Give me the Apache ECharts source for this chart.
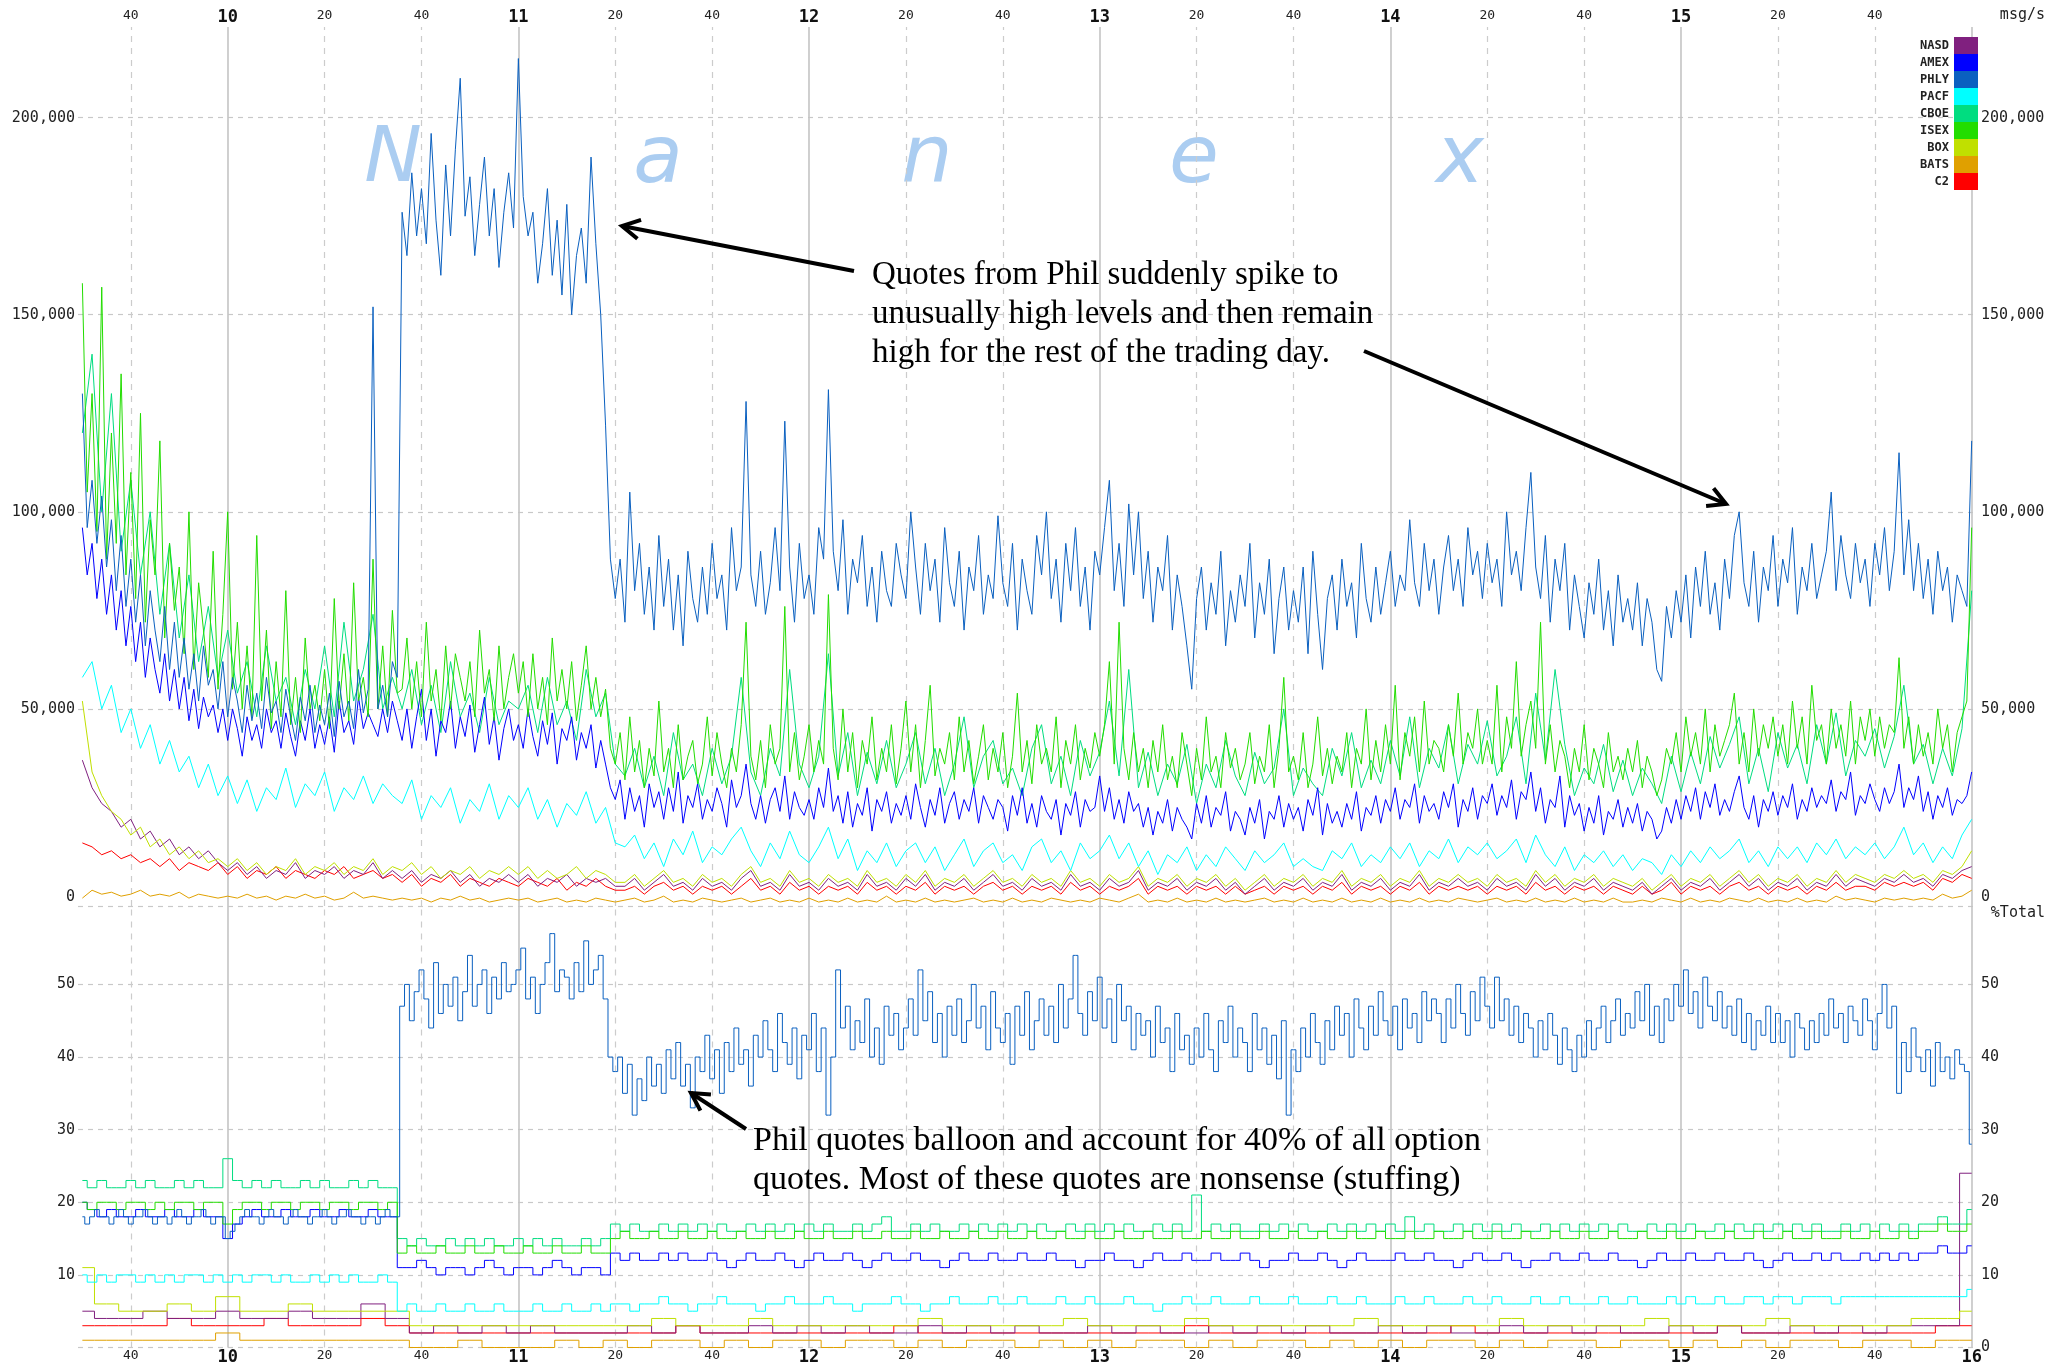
<!DOCTYPE html>
<html>
<head>
<meta charset="utf-8">
<title>Option quote rates by exchange</title>
<script src="https://cdn.jsdelivr.net/npm/echarts@6.0.0/dist/echarts.min.js"></script>
<style>
  html, body { margin: 0; padding: 0; background: #fff; }
  #chart { width: 2053px; height: 1369px; }
</style>
</head>
<body>
<div id="chart"></div>
<script>
var exchanges = ['NASD', 'AMEX', 'PHLY', 'PACF', 'CBOE', 'ISEX', 'BOX', 'BATS', 'C2'];
var exchangeColors = ['#80207f', '#0000ff', '#0a60c0', '#00ffff', '#00dd80', '#22dd00', '#c0e000', '#e0a000', '#ff0000'];
// back to front
var drawOrder = ['BATS', 'C2', 'NASD', 'BOX', 'PACF', 'CBOE', 'AMEX', 'ISEX', 'PHLY'];

// minutes after midnight: 570 = 9:30, 960 = 16:00
var timeTicks = [580, 600, 620, 640, 660, 680, 700, 720, 740, 760, 780, 800, 820, 840,
  860, 880, 900, 920, 940, 960];

// msg/s in thousands, one value per minute from 9:30 (rows of 10 minutes)
var phlyRate = [
  130, 96, 108, 92, 104, 86, 98, 80, 94, 76,
  88, 72, 84, 66, 80, 70, 62, 76, 60, 72,
  58, 68, 55, 64, 52, 66, 56, 60, 50, 62,
  48, 58, 52, 44, 56, 47, 54, 45, 58, 49,
  52, 44, 55, 48, 42, 53, 47, 56, 44, 51,
  46, 54, 43, 57, 48, 52, 45, 60, 49, 55,
  152, 50, 56, 48, 62, 58, 176, 165, 186, 170,
  182, 168, 196, 174, 160, 188, 170, 192, 210, 175,
  185, 165, 178, 190, 170, 182, 162, 176, 186, 172,
  215, 180, 170, 176, 158, 168, 182, 160, 174, 155,
  178, 150, 165, 172, 158, 190, 168, 150, 122, 88,
  78, 88, 72, 105, 80, 92, 74, 86, 70, 94,
  76, 88, 70, 84, 66, 90, 78, 72, 86, 74,
  92, 78, 84, 70, 96, 80, 86, 128, 84, 76,
  90, 74, 82, 96, 80, 123, 86, 72, 92, 78,
  84, 74, 96, 88, 131, 90, 80, 98, 74, 88,
  82, 94, 76, 86, 72, 90, 80, 76, 92, 84,
  78, 100, 86, 74, 92, 80, 88, 72, 96, 82,
  76, 90, 70, 86, 80, 94, 74, 84, 78, 99,
  82, 76, 92, 70, 88, 80, 74, 94, 84, 100,
  78, 88, 72, 92, 80, 96, 76, 86, 70, 90,
  84, 96, 108, 80, 92, 76, 102, 84, 100, 78,
  90, 72, 86, 80, 94, 70, 84, 76, 66, 55,
  78, 86, 70, 82, 74, 90, 66, 80, 72, 84,
  76, 92, 68, 82, 74, 88, 64, 78, 86, 70,
  80, 72, 86, 64, 90, 74, 60, 78, 84, 70,
  88, 76, 82, 68, 92, 78, 72, 86, 74, 82,
  90, 76, 84, 80, 98, 82, 76, 92, 80, 88,
  74, 86, 94, 80, 88, 76, 96, 84, 90, 78,
  92, 82, 88, 76, 100, 84, 90, 80, 96, 110,
  86, 78, 94, 72, 88, 80, 92, 70, 84, 76,
  68, 82, 74, 88, 70, 80, 66, 84, 72, 78,
  70, 82, 66, 78, 72, 60, 57, 76, 68, 80,
  72, 84, 68, 86, 76, 90, 74, 82, 70, 88,
  78, 94, 100, 82, 76, 90, 72, 86, 80, 94,
  76, 88, 82, 96, 74, 86, 80, 92, 78, 84,
  90, 105, 80, 94, 84, 78, 92, 82, 88, 76,
  92, 84, 96, 80, 90, 115, 84, 98, 80, 92,
  78, 88, 74, 90, 80, 86, 72, 84, 80, 76,
  118];

var amexRate = [
  96, 84, 92, 78, 88, 74, 84, 70, 80, 66,
  76, 62, 72, 58, 68, 60, 54, 64, 52, 60,
  50, 58, 47, 55, 45, 53, 48, 51, 44, 50,
  42, 50, 45, 38, 48, 42, 46, 40, 50, 44,
  47, 40, 49, 43, 38, 47, 42, 50, 40, 46,
  41, 48, 39, 52, 44, 47, 41, 53, 45, 49,
  46, 43, 50, 44, 52, 47, 42, 50, 40, 48,
  55, 42, 50, 38, 47, 44, 52, 40, 48, 43,
  51, 39, 46, 53, 41, 48, 37, 45, 50, 42,
  46, 40, 50, 43, 38, 47, 41, 49, 36, 45,
  42, 48, 37, 44, 40, 46, 35, 42, 36, 30,
  27, 32, 22, 30, 24, 28, 20, 31, 25, 29,
  22, 30, 24, 34, 21, 28, 25, 31, 22, 27,
  24, 30, 26, 20, 32, 25, 28, 36, 26, 22,
  28, 21, 27, 30, 24, 33, 22, 29, 25, 23,
  27, 22, 30, 25, 35, 24, 28, 21, 29, 20,
  26, 23, 30, 19, 27, 24, 29, 21, 26, 23,
  28, 22, 31, 25, 20, 27, 23, 30, 21, 26,
  29, 22, 27, 24, 30, 21, 28, 25, 22, 27,
  25, 19, 28, 23, 30, 21, 26, 20, 28, 24,
  22, 27, 18, 26, 23, 29, 20, 27, 24, 25,
  33, 24, 30, 22, 27, 21, 29, 24, 26, 20,
  25, 18, 24, 21, 27, 19, 25, 22, 20, 17,
  26, 21, 28, 20, 25, 23, 29, 19, 24, 22,
  18, 25, 21, 27, 17, 24, 22, 28, 20, 26,
  22, 25, 19, 27, 23, 30, 18, 26, 21, 24,
  20, 26, 22, 29, 19, 25, 23, 28, 21, 27,
  24, 30, 22, 27, 25, 31, 21, 28, 24, 26,
  22, 29, 25, 31, 20, 27, 24, 30, 22, 28,
  26, 31, 23, 28, 25, 32, 22, 29, 27, 34,
  24, 30, 21, 27, 25, 33, 20, 28, 23, 26,
  19, 25, 21, 28, 18, 24, 22, 27, 20, 25,
  21, 26, 19, 24, 22, 17, 19, 25, 21, 27,
  22, 28, 24, 30, 22, 29, 25, 31, 23, 27,
  24, 29, 33, 25, 22, 28, 20, 27, 24, 29,
  23, 28, 25, 31, 22, 27, 24, 30, 25, 28,
  26, 32, 24, 29, 27, 34, 23, 28, 26, 31,
  27, 24, 30, 26, 29, 36, 25, 30, 27, 33,
  24, 29, 22, 28, 25, 30, 23, 27, 26, 28,
  34];

var isexRate = [
  158, 105, 130, 95, 157, 88, 120, 92, 135, 84,
  110, 78, 125, 72, 98, 84, 118, 68, 92, 75,
  86, 64, 100, 60, 82, 70, 58, 90, 55, 74,
  100, 55, 72, 50, 66, 48, 94, 52, 70, 45,
  62, 48, 80, 46, 58, 44, 68, 50, 56, 47,
  60, 45, 78, 50, 64, 47, 82, 52, 58, 48,
  88, 50, 66, 48, 75, 54, 55, 68, 50, 62,
  48, 72, 52, 60, 47, 66, 50, 64, 58, 52,
  62, 48, 70, 54, 60, 47, 66, 50, 58, 64,
  54, 62, 48, 64, 50, 58, 46, 68, 52, 60,
  50, 62, 47, 56, 66, 50, 58, 48, 55, 40,
  36, 44, 32, 48, 34, 42, 30, 40, 33, 52,
  34, 40, 30, 46, 32, 38, 42, 31, 36, 48,
  33, 44, 36, 30, 40, 34, 46, 72, 38, 32,
  42, 30, 46, 36, 40, 76, 34, 44, 32, 38,
  46, 34, 42, 36, 79, 40, 32, 50, 34, 44,
  30, 42, 36, 48, 32, 40, 34, 46, 31, 40,
  52, 34, 46, 30, 42, 56, 33, 40, 36, 44,
  32, 48, 34, 42, 31, 38, 46, 32, 40, 34,
  44, 30, 38, 54, 34, 42, 31, 46, 36, 40,
  34, 48, 30, 42, 36, 46, 32, 40, 35, 44,
  38, 46, 62, 36, 72, 40, 32, 44, 34, 40,
  30, 42, 34, 46, 32, 38, 30, 44, 36, 28,
  40, 32, 48, 34, 38, 30, 44, 35, 40, 32,
  36, 44, 31, 38, 34, 46, 30, 40, 58, 34,
  38, 32, 44, 30, 36, 48, 33, 40, 31, 38,
  34, 44, 30, 40, 36, 50, 32, 42, 34, 46,
  36, 56, 32, 44, 38, 48, 34, 52, 36, 42,
  40, 34, 46, 38, 54, 36, 44, 40, 50, 36,
  42, 36, 56, 34, 48, 40, 62, 38, 46, 52,
  40, 72, 36, 46, 34, 42, 38, 30, 40, 34,
  46, 32, 40, 36, 30, 44, 34, 38, 32, 40,
  34, 42, 30, 38, 34, 28, 32, 40, 36, 44,
  34, 48, 38, 44, 36, 50, 34, 46, 38, 42,
  46, 54, 36, 44, 34, 50, 38, 46, 40, 48,
  38, 46, 36, 52, 40, 48, 36, 56, 42, 46,
  36, 50, 40, 46, 38, 52, 36, 48, 42, 50,
  38, 48, 40, 46, 44, 63, 40, 48, 36, 46,
  38, 44, 36, 50, 40, 46, 34, 44, 48, 52,
  96];

// msg/s in thousands, one value every 2 minutes from 9:30
var cboeRate = [120, 140, 100, 130, 90, 108, 84, 100, 74, 92, 68, 84, 62, 76, 58,
  70, 54, 62, 48, 66, 52, 58, 46, 60, 50, 66, 48, 72, 52, 60,
  74, 50, 58,
  50, 60, 46, 56, 44, 62, 48, 54, 44, 58, 46, 52,
  50, 56, 44, 58, 46, 52, 42, 60, 48, 54, 36,
  33, 40, 30, 38, 28, 44, 32, 36, 28, 40,
  31, 38, 58, 34, 28, 40, 33, 60, 36, 30,
  38, 64, 33, 44, 28, 39, 31, 42, 30, 36,
  44, 31, 40, 28, 36, 48, 30, 38, 42, 31,
  35, 28, 40, 46, 31, 38, 28, 42, 33, 39,
  52, 33, 60, 30, 39, 28, 36, 31, 41, 26,
  36, 30, 42, 33, 28, 39, 31, 35, 50, 28,
  35, 31, 28, 40, 33, 44, 30, 37, 31, 42,
  33, 48, 30, 40, 35, 46, 31, 41, 36, 47,
  33, 38, 48, 31, 54, 37, 60, 41, 28, 35,
  31, 41, 29, 37, 28, 35, 31, 26, 38, 29,
  39, 31, 43, 35, 41, 48, 31, 40, 29, 44,
  35, 41, 31, 46, 36, 49, 33, 42, 38, 45,
  35, 43, 56, 36, 41, 31, 40, 33, 45, 80];

var pacfRate = [58, 62, 50, 56, 44, 50, 40, 46, 36, 42, 34, 38, 30, 36, 28,
  33, 26, 32, 24, 30, 27, 35, 25, 31, 28, 34, 24, 30, 27, 33,
  26, 31, 28,
  26, 32, 22, 28, 25, 30, 21, 27, 24, 31, 22, 28,
  25, 30, 22, 27, 20, 26, 23, 29, 21, 25, 16,
  15, 18, 12, 16, 10, 17, 13, 19, 11, 15,
  13, 17, 20, 14, 10, 16, 12, 19, 13, 11,
  15, 20, 12, 17, 9, 14, 11, 16, 10, 14,
  16, 11, 15, 9, 13, 17, 10, 14, 16, 11,
  13, 9, 15, 17, 11, 14, 9, 16, 12, 14,
  18, 12, 16, 10, 14, 8, 13, 11, 15, 9,
  13, 10, 15, 12, 9, 14, 11, 13, 16, 10,
  12, 10, 9, 14, 12, 16, 10, 13, 11, 15,
  12, 16, 10, 14, 12, 17, 11, 15, 13, 16,
  12, 14, 17, 11, 18, 13, 10, 15, 9, 13,
  11, 14, 10, 13, 9, 12, 11, 8, 13, 10,
  14, 11, 15, 12, 14, 17, 11, 14, 10, 15,
  12, 15, 11, 16, 13, 17, 12, 15, 13, 16,
  12, 15, 20, 13, 16, 11, 15, 12, 18, 22];

var boxRate = [52, 34, 28, 24, 22, 18, 20, 15, 17, 13, 15, 12, 14, 11, 12,
  10, 12, 9, 11, 8, 10, 9, 12, 8, 10, 9, 11, 8, 10, 9,
  12, 8, 10,
  9, 11, 8, 10, 7, 9, 8, 10, 7, 9, 8, 10,
  8, 10, 7, 9, 7, 8, 10, 7, 9, 8, 6,
  6, 8, 5, 7, 9, 6, 7, 5, 8, 6,
  7, 5, 8, 10, 6, 7, 5, 9, 6, 7,
  5, 8, 6, 7, 5, 9, 6, 7, 5, 8,
  6, 9, 5, 7, 6, 8, 5, 7, 9, 6,
  7, 5, 8, 6, 7, 5, 9, 6, 7, 5,
  8, 6, 7, 10, 5, 7, 6, 8, 5, 7,
  6, 8, 5, 7, 4, 6, 8, 5, 7, 6,
  8, 5, 7, 6, 9, 5, 7, 6, 8, 5,
  7, 6, 9, 5, 7, 6, 8, 6, 7, 5,
  8, 6, 7, 5, 9, 6, 8, 5, 7, 6,
  8, 5, 7, 6, 5, 7, 4, 6, 8, 5,
  7, 6, 8, 5, 7, 9, 6, 8, 5, 7,
  6, 8, 5, 7, 6, 9, 6, 8, 7, 6,
  8, 7, 9, 7, 8, 6, 9, 8, 10, 14];

var nasdRate = [37, 30, 26, 24, 20, 22, 17, 19, 15, 17, 13, 15, 12, 14, 11,
  9, 11, 8, 10, 7, 9, 8, 11, 7, 9, 8, 10, 7, 9, 8,
  11, 7, 9,
  7, 9, 6, 8, 7, 9, 6, 8, 5, 7, 6, 8,
  6, 8, 5, 7, 6, 8, 5, 7, 6, 7, 5,
  5, 7, 4, 6, 8, 5, 6, 4, 7, 5,
  6, 4, 7, 9, 5, 6, 4, 8, 5, 6,
  4, 7, 5, 6, 4, 8, 5, 6, 4, 7,
  5, 8, 4, 6, 5, 7, 4, 6, 8, 5,
  6, 4, 7, 5, 6, 4, 8, 5, 6, 4,
  7, 5, 6, 9, 4, 6, 5, 7, 4, 6,
  5, 7, 4, 6, 3, 5, 7, 4, 6, 5,
  7, 4, 6, 5, 8, 4, 6, 5, 7, 4,
  6, 5, 8, 4, 6, 5, 7, 5, 6, 4,
  7, 5, 6, 4, 8, 5, 7, 4, 6, 5,
  7, 4, 6, 5, 4, 6, 3, 5, 7, 4,
  6, 5, 7, 4, 6, 8, 5, 7, 4, 6,
  5, 7, 4, 6, 5, 8, 5, 7, 6, 5,
  7, 6, 8, 6, 7, 5, 8, 7, 9, 10];

var c2Rate = [16, 15, 13, 14, 12, 13, 11, 12, 10, 12, 9, 11, 10, 9, 11,
  8, 10, 7, 9, 8, 10, 7, 9, 8, 7, 9, 8, 10, 7, 8,
  9, 7, 8,
  6, 8, 5, 7, 6, 8, 5, 7, 6, 5, 7, 6,
  5, 7, 6, 5, 7, 4, 6, 5, 7, 5, 4,
  4, 5, 3, 5, 6, 4, 5, 3, 5, 4,
  5, 3, 5, 7, 4, 5, 3, 6, 4, 5,
  3, 5, 4, 5, 3, 6, 4, 5, 3, 5,
  4, 6, 3, 5, 4, 5, 3, 5, 6, 4,
  5, 3, 5, 4, 5, 3, 6, 4, 5, 3,
  5, 4, 5, 7, 3, 5, 4, 5, 3, 5,
  4, 5, 3, 5, 3, 4, 5, 3, 5, 4,
  5, 3, 5, 4, 6, 3, 5, 4, 5, 3,
  5, 4, 6, 3, 5, 4, 5, 4, 5, 3,
  5, 4, 5, 3, 6, 4, 5, 3, 5, 4,
  5, 3, 5, 4, 3, 5, 3, 4, 6, 3,
  5, 4, 5, 3, 5, 6, 4, 5, 3, 5,
  4, 5, 3, 5, 4, 6, 4, 5, 5, 4,
  6, 5, 6, 5, 6, 4, 7, 6, 8, 7];

var batsRate = [2, 4, 3, 3.5, 2.5, 3, 4, 2.5, 3, 2.5, 3.5, 2, 3, 2.5, 2,
  2.5, 2, 3, 2, 2.5, 1.5, 2.5, 2, 3, 2, 2.5, 1.5, 2, 3.5, 2,
  2.5, 2, 1.5,
  2, 1.5, 2, 1, 2, 1.5, 2.5, 1.5, 2, 1, 1.5, 2,
  1.5, 2, 1, 1.5, 2, 1, 1.5, 1, 2, 1.5, 1,
  1.5, 2, 1, 1.5, 2.5, 1, 1.5, 1, 2, 1.5,
  1, 1.5, 2, 1, 1.5, 2, 1, 1.5, 1, 2,
  1, 1.5, 1, 2, 1, 1.5, 1, 2.5, 1, 1.5,
  1, 2, 1, 1.5, 1, 1.5, 2, 1, 1.5, 1,
  2, 1, 1.5, 1, 2, 1.5, 1, 1.5, 1, 2,
  1.5, 1, 2, 3, 1, 1.5, 1, 2, 1, 1.5,
  1, 2, 1, 1.5, 1, 1.5, 2, 1, 1.5, 1,
  2, 1, 1.5, 1, 2, 1, 1.5, 1, 2, 1,
  1.5, 1, 2, 1, 1.5, 1, 2, 1.5, 1, 1.5,
  2, 1, 1.5, 1, 2, 1, 1.5, 1, 2, 1,
  1.5, 1, 2, 1, 1, 1.5, 1, 2, 1.5, 1,
  2, 1, 1.5, 1, 2, 1.5, 1, 2, 1, 1.5,
  1, 2, 1, 1.5, 1, 2.5, 1.5, 2, 1.5, 1,
  2, 1.5, 2, 1.5, 2, 1.5, 3, 2, 2.5, 4];

// percent of all option quotes, one value per minute
var phlyPct = [
  18, 17, 18, 19, 18, 18, 17, 18, 19, 18,
  17, 18, 18, 19, 18, 17, 18, 18, 17, 18,
  19, 18, 17, 18, 18, 19, 18, 17, 18, 18,
  15, 16, 17, 18, 19, 18, 18, 17, 18, 19,
  18, 18, 17, 18, 19, 18, 18, 17, 18, 18,
  19, 18, 17, 18, 18, 19, 18, 18, 17, 18,
  18, 17, 18, 19, 18, 18, 47, 50, 45, 49,
  52, 48, 44, 53, 46, 50, 47, 51, 45, 49,
  54, 47, 50, 52, 46, 51, 48, 53, 49, 50,
  52, 55, 48, 51, 46, 50, 53, 57, 49, 52,
  51, 48, 53, 49, 56, 50, 52, 54, 48, 40,
  38, 40, 35, 39, 32, 37, 34, 40, 36, 39,
  35, 41, 37, 42, 36, 39, 33, 40, 38, 43,
  37, 41, 35, 42, 38, 44, 39, 41, 36, 43,
  40, 45, 41, 38, 46, 42, 39, 44, 37, 43,
  41, 46, 38, 44, 32, 40, 52, 44, 47, 41,
  45, 42, 48, 40, 44, 39, 47, 43, 46, 41,
  44, 48, 43, 52, 45, 49, 42, 46, 40, 47,
  43, 48, 42, 45, 50, 44, 47, 41, 49, 44,
  42, 46, 39, 47, 43, 49, 41, 45, 48, 43,
  47, 42, 50, 44, 48, 54, 46, 43, 49, 45,
  51, 44, 48, 42, 50, 45, 47, 41, 46, 43,
  45, 40, 47, 42, 44, 38, 46, 41, 43, 39,
  44, 40, 46, 41, 38, 45, 42, 47, 40, 44,
  42, 38, 46, 41, 44, 39, 43, 37, 45, 32,
  41, 38, 44, 40, 46, 42, 39, 45, 41, 47,
  43, 46, 40, 48, 44, 41, 47, 43, 49, 45,
  43, 47, 41, 48, 44, 46, 42, 49, 45, 48,
  46, 42, 48, 44, 50, 46, 43, 49, 45, 51,
  47, 44, 51, 45, 48, 43, 47, 42, 46, 44,
  40, 45, 41, 46, 43, 39, 44, 41, 38, 43,
  40, 45, 41, 44, 47, 42, 45, 48, 43, 46,
  44, 49, 45, 50, 43, 47, 42, 48, 45, 50,
  47, 52, 46, 49, 44, 51, 47, 45, 49, 44,
  47, 43, 48, 42, 46, 41, 45, 43, 47, 42,
  46, 42, 45, 40, 46, 44, 41, 45, 42, 46,
  43, 48, 44, 46, 42, 47, 45, 43, 48, 45,
  41, 46, 50, 44, 47, 35, 42, 38, 44, 40,
  38, 41, 36, 42, 38, 40, 37, 41, 39, 38,
  28];

// percent of all option quotes, every 2 minutes
var cboePct = [23, 22, 23, 22, 22, 23, 22, 23, 22, 22, 23, 22, 23, 22, 22,
  26, 23, 22, 23, 22, 23, 22, 22, 23, 22, 23, 22, 22, 23, 22, 23, 22, 22,
  15, 14, 15, 14, 14, 15, 14, 15, 14, 15, 14, 14, 15, 14, 15, 14, 15, 14, 14, 15, 14, 15,
  17, 16, 17, 16, 16, 17, 16, 17, 16, 17,
  16, 17, 16, 16, 17, 16, 17, 16, 17, 16,
  17, 16, 17, 16, 16, 17, 16, 17, 18, 16,
  16, 17, 16, 17, 16, 16, 17, 16, 17, 16,
  17, 16, 17, 16, 17, 16, 16, 17, 16, 17,
  16, 17, 16, 17, 16, 16, 17, 16, 17, 16,
  21, 16, 17, 16, 17, 16, 16, 17, 16, 17,
  16, 17, 16, 16, 17, 16, 17, 16, 17, 16,
  17, 16, 18, 16, 17, 16, 16, 17, 16, 17,
  16, 17, 16, 17, 16, 16, 17, 16, 17, 16,
  17, 16, 17, 16, 17, 16, 16, 17, 16, 17,
  16, 17, 16, 16, 17, 16, 17, 16, 17, 16,
  17, 16, 17, 16, 17, 16, 16, 17, 16, 17,
  16, 17, 16, 17, 16, 17, 17, 18, 17, 17,
  19];

var isexPct = [20, 19, 20, 20, 19, 20, 20, 19, 20, 19, 20, 20, 19, 20, 20,
  17, 19, 20, 20, 19, 20, 20, 19, 20, 20, 19, 20, 20, 19, 20, 20, 19, 20,
  13, 14, 13, 13, 14, 13, 13, 14, 13, 13, 14, 13, 13, 14, 13, 13, 14, 13, 13, 14, 13, 13,
  15, 16, 15, 15, 16, 15, 15, 16, 15, 15,
  16, 15, 15, 16, 15, 15, 16, 15, 15, 16,
  15, 15, 16, 15, 15, 16, 15, 15, 16, 15,
  15, 16, 15, 15, 16, 15, 15, 16, 15, 15,
  16, 15, 15, 16, 15, 15, 16, 15, 15, 16,
  15, 15, 16, 15, 15, 16, 15, 15, 16, 15,
  15, 16, 15, 15, 16, 15, 15, 16, 15, 15,
  16, 15, 15, 16, 15, 15, 16, 15, 15, 16,
  15, 15, 16, 15, 15, 16, 15, 15, 16, 15,
  15, 16, 15, 15, 16, 15, 15, 16, 15, 15,
  16, 15, 15, 16, 15, 15, 16, 15, 15, 16,
  15, 15, 16, 15, 15, 16, 15, 15, 16, 15,
  15, 16, 15, 15, 16, 15, 15, 16, 15, 15,
  16, 15, 15, 16, 15, 16, 16, 17, 16, 16,
  17];

var amexPct = [20, 19, 18, 19, 18, 18, 19, 18, 18, 19, 18, 18, 19, 18, 18,
  15, 17, 18, 19, 18, 18, 19, 18, 18, 19, 18, 18, 19, 18, 18, 19, 18, 18,
  11, 11, 12, 11, 10, 11, 11, 10, 11, 12, 11, 10, 11, 11, 10, 11, 12, 11, 10, 11, 11, 10,
  13, 12, 13, 12, 12, 13, 12, 13, 12, 12,
  13, 12, 11, 12, 13, 12, 12, 13, 12, 11,
  12, 13, 12, 12, 13, 12, 11, 12, 13, 12,
  12, 13, 12, 12, 11, 12, 13, 12, 12, 13,
  12, 12, 13, 12, 12, 13, 12, 12, 11, 12,
  12, 13, 12, 12, 11, 12, 13, 12, 12, 13,
  12, 12, 13, 12, 12, 13, 12, 11, 12, 12,
  13, 12, 12, 13, 12, 11, 12, 13, 12, 12,
  12, 13, 12, 12, 13, 12, 12, 11, 12, 13,
  12, 12, 13, 12, 11, 12, 12, 13, 12, 12,
  13, 12, 12, 13, 12, 12, 11, 12, 13, 12,
  12, 13, 12, 12, 13, 12, 12, 13, 12, 11,
  12, 13, 12, 12, 13, 12, 13, 12, 12, 13,
  12, 13, 12, 13, 12, 13, 13, 14, 13, 13,
  14];

var pacfPct = [10, 9, 10, 9, 10, 10, 9, 10, 9, 10, 9, 10, 10, 9, 10,
  9, 10, 9, 10, 10, 9, 10, 9, 9, 10, 9, 10, 9, 10, 9, 9, 10, 9,
  5, 6, 5, 5, 6, 5, 5, 6, 5, 5, 6, 5, 5, 5, 6, 5, 5, 6, 5, 5, 6, 5,
  6, 6, 5, 6, 6, 7, 6, 6, 5, 6,
  6, 7, 6, 6, 6, 5, 6, 6, 7, 6,
  6, 6, 7, 6, 6, 5, 6, 6, 6, 7,
  6, 6, 5, 6, 6, 7, 6, 6, 6, 7,
  6, 6, 7, 6, 6, 6, 7, 6, 6, 7,
  6, 6, 6, 7, 6, 6, 5, 6, 6, 7,
  6, 6, 7, 6, 6, 6, 7, 6, 6, 6,
  7, 6, 6, 6, 7, 6, 6, 7, 6, 6,
  6, 7, 6, 6, 7, 6, 6, 6, 7, 6,
  6, 7, 6, 6, 6, 7, 6, 6, 7, 6,
  6, 6, 7, 6, 6, 7, 6, 6, 6, 7,
  6, 7, 6, 6, 7, 6, 6, 7, 7, 6,
  7, 7, 6, 7, 7, 7, 6, 7, 7, 7,
  7, 7, 7, 7, 7, 7, 7, 7, 7, 7,
  8];

// percent of all option quotes, every 5 minutes
var boxPct = [11, 6, 5, 5, 6, 5, 7, 5, 5, 6, 5, 5, 5, 5,
  3, 3, 3, 3, 3, 3, 3, 3,
  3, 3, 4, 3, 3, 3, 4, 3, 3, 3,
  3, 3, 3, 4, 3, 3, 3, 3, 3, 4,
  3, 3, 3, 3, 4, 3, 3, 3, 3, 3,
  3, 4, 3, 3, 3, 3, 3, 4, 3, 3,
  3, 3, 3, 4, 3, 3, 3, 3, 4, 3,
  3, 3, 3, 3, 4, 4, 5];

var nasdPct = [5, 4, 4, 5, 4, 4, 5, 4, 4, 5, 4, 4, 6, 4,
  2, 3, 2, 3, 2, 3, 2, 2,
  2, 3, 2, 3, 2, 2, 3, 2, 3, 2,
  3, 2, 2, 3, 2, 3, 2, 3, 2, 2,
  3, 2, 3, 2, 2, 3, 2, 3, 2, 3,
  2, 2, 3, 2, 3, 2, 2, 3, 2, 3,
  2, 3, 2, 2, 3, 2, 3, 2, 2, 3,
  2, 3, 2, 3, 3, 3, 24];

var c2Pct = [3, 3, 3, 3, 4, 3, 3, 3, 4, 3, 3, 3, 4, 3,
  2, 2, 2, 2, 2, 2, 2, 2,
  2, 2, 2, 3, 2, 2, 2, 2, 2, 2,
  2, 2, 3, 2, 2, 2, 2, 2, 2, 2,
  2, 2, 2, 2, 3, 2, 2, 2, 2, 2,
  2, 2, 2, 2, 2, 3, 2, 2, 2, 2,
  2, 2, 2, 2, 2, 2, 3, 2, 2, 2,
  2, 2, 2, 2, 2, 3, 3];

var batsPct = [1, 1, 1, 1, 1, 1, 2, 1, 1, 1, 1, 1, 1, 1,
  0, 0, 1, 0, 0, 0, 1, 0,
  1, 0, 1, 1, 0, 1, 0, 1, 1, 0,
  1, 1, 0, 1, 0, 1, 1, 0, 1, 0,
  1, 0, 1, 1, 0, 1, 0, 1, 1, 0,
  1, 0, 1, 0, 1, 1, 0, 1, 0, 1,
  1, 0, 1, 1, 0, 1, 0, 1, 0, 1,
  1, 0, 1, 1, 0, 1, 1];

// each entry: [sampling step in minutes, values]
var rates = {
  PHLY: [1, phlyRate], AMEX: [1, amexRate], ISEX: [1, isexRate], CBOE: [2, cboeRate],
  PACF: [2, pacfRate], BOX: [2, boxRate], NASD: [2, nasdRate], C2: [2, c2Rate], BATS: [2, batsRate]
};
var shares = {
  PHLY: [1, phlyPct], AMEX: [2, amexPct], ISEX: [2, isexPct], CBOE: [2, cboePct],
  PACF: [2, pacfPct], BOX: [5, boxPct], NASD: [5, nasdPct], C2: [5, c2Pct], BATS: [5, batsPct]
};

var MONO = 'DejaVu Sans Mono';
var GRID_GREY = '#c8c8c8';

// pair every value with its sample time (minutes after midnight, from 9:30)
function pairs(step, vals, mult) {
  return vals.map(function (v, i) { return [570 + step * i, v * mult]; });
}

function colorOf(name) {
  return exchangeColors[exchanges.indexOf(name)];
}

function withCommas(v) {
  return String(v).replace(/\B(?=(\d{3})+(?!\d))/g, ',');
}

function timeLabel(v) {
  var m = Math.round(v) % 60;
  return m === 0 ? '{h|' + Math.round(v / 60) + '}' : '{m|' + m + '}';
}

// vertical time grid, drawn under the data
function timeGrid(xi, yi) {
  return {
    type: 'line',
    xAxisIndex: xi,
    yAxisIndex: yi,
    data: [],
    silent: true,
    z: 1,
    markLine: {
      z: 1,
      silent: true,
      symbol: 'none',
      animation: false,
      label: { show: false },
      data: timeTicks.map(function (t) {
        var hour = t % 60 === 0;
        return {
          xAxis: t,
          lineStyle: {
            color: hour ? '#c4c4c4' : '#cccccc',
            width: hour ? 1.6 : 1.2,
            type: hour ? 'solid' : [6, 6]
          }
        };
      })
    }
  };
}

function arrow(x1, y1, x2, y2) {
  var ang = Math.atan2(y1 - y2, x1 - x2);
  var head = 20;
  var spread = 0.5;
  return [{
    type: 'line',
    z: 100,
    shape: { x1: x1, y1: y1, x2: x2, y2: y2 },
    style: { stroke: '#000', lineWidth: 4 }
  }, {
    type: 'polyline',
    z: 100,
    shape: {
      points: [
        [x2 + head * Math.cos(ang + spread), y2 + head * Math.sin(ang + spread)],
        [x2, y2],
        [x2 + head * Math.cos(ang - spread), y2 + head * Math.sin(ang - spread)]
      ]
    },
    style: { stroke: '#000', lineWidth: 4, fill: null }
  }];
}

function watermark(ch, x, size) {
  return {
    type: 'text',
    x: x,
    y: 161,
    z: 0,
    silent: true,
    style: {
      text: ch,
      font: 'italic ' + size + 'px "DejaVu Sans"',
      fill: '#abcdf1',
      align: 'center',
      verticalAlign: 'middle'
    }
  };
}

var series = [timeGrid(0, 0), timeGrid(1, 2)];
drawOrder.forEach(function (name) {
  series.push({
    name: name,
    type: 'line',
    xAxisIndex: 0,
    yAxisIndex: 0,
    data: pairs(rates[name][0], rates[name][1], 1000),
    showSymbol: false,
    silent: true,
    lineStyle: { width: 1, color: colorOf(name) },
    itemStyle: { color: colorOf(name) }
  });
  series.push({
    name: name,
    type: 'line',
    xAxisIndex: 1,
    yAxisIndex: 2,
    step: 'middle',
    data: pairs(shares[name][0], shares[name][1], 1),
    showSymbol: false,
    silent: true,
    lineStyle: { width: 1, color: colorOf(name) },
    itemStyle: { color: colorOf(name) }
  });
});

var xBase = {
  type: 'value',
  min: 569.1,
  max: 961.3,
  axisLine: { show: false },
  axisTick: { show: false },
  splitLine: { show: false }
};

// lineColors: one entry per drawn split line, so a transparent one hides it
function yAxis(grid, pos, max, split, formatter, showMin, lineColors) {
  return {
    type: 'value',
    gridIndex: grid,
    position: pos,
    min: 0,
    max: max,
    interval: split,
    axisLine: { show: false },
    axisTick: { show: false },
    splitLine: {
      show: pos === 'left',
      showMaxLine: false,
      lineStyle: { color: lineColors, type: [5, 5], width: 1.2 }
    },
    axisLabel: {
      margin: 3,
      showMaxLabel: false,
      showMinLabel: showMin,
      fontFamily: MONO,
      fontSize: 15,
      color: '#222',
      formatter: formatter,
      rich: { z: { fontFamily: MONO, fontSize: 15, color: '#222', padding: [0, 0, 18, 0] } }
    }
  };
}

function msgLabel(v) {
  return v === 0 ? '{z|0}' : withCommas(v);
}

function pctLabel(v) {
  return v >= 60 ? '' : String(v);
}

var pctLines = [GRID_GREY, GRID_GREY, GRID_GREY, GRID_GREY, GRID_GREY, GRID_GREY, 'rgba(0,0,0,0)'];

var chart = echarts.init(document.getElementById('chart'));

var option = {
  animation: false,
  backgroundColor: '#ffffff',
  grid: [
    { left: 78, right: 75, top: 27, height: 879, outerBoundsMode: 'none', containLabel: false },
    { left: 78, right: 75, top: 906, height: 441.5, outerBoundsMode: 'none', containLabel: false }
  ],
  xAxis: [
    Object.assign({}, xBase, {
      gridIndex: 0,
      position: 'top',
      axisLabel: {
        customValues: timeTicks.slice(0, -1),
        margin: 1,
        formatter: timeLabel,
        rich: {
          h: { fontFamily: MONO, fontSize: 17, fontWeight: 'bold', color: '#111' },
          m: { fontFamily: MONO, fontSize: 13, color: '#222', padding: [0, 0, 4, 0] }
        }
      }
    }),
    Object.assign({}, xBase, {
      gridIndex: 1,
      position: 'bottom',
      axisLabel: {
        customValues: timeTicks,
        margin: 2,
        formatter: timeLabel,
        rich: {
          h: { fontFamily: MONO, fontSize: 17, fontWeight: 'bold', color: '#111' },
          m: { fontFamily: MONO, fontSize: 13, color: '#222' }
        }
      }
    })
  ],
  yAxis: [
    yAxis(0, 'left', 223000, 50000, msgLabel, true, GRID_GREY),
    yAxis(0, 'right', 223000, 50000, msgLabel, true, GRID_GREY),
    yAxis(1, 'left', 60.8, 10, pctLabel, false, pctLines),
    yAxis(1, 'right', 60.8, 10, pctLabel, true, pctLines)
  ],
  legend: {
    data: exchanges,
    orient: 'vertical',
    right: 75,
    top: 37,
    padding: 0,
    itemWidth: 24,
    itemHeight: 17,
    itemGap: 0,
    align: 'right',
    icon: 'rect',
    selectedMode: false,
    itemStyle: { borderWidth: 0 },
    textStyle: { fontFamily: MONO, fontSize: 12, fontWeight: 'bold', color: '#222' }
  },
  graphic: [
    watermark('N', 393, 77),
    watermark('a', 658, 81),
    watermark('n', 927, 81),
    watermark('e', 1194, 81),
    watermark('x', 1460, 81),
    {
      type: 'text', right: 8, top: 8, z: 50,
      style: { text: 'msg/s', font: '15px "DejaVu Sans Mono"', fill: '#222' }
    },
    {
      type: 'text', right: 8, top: 906, z: 50,
      style: { text: '%Total', font: '15px "DejaVu Sans Mono"', fill: '#222' }
    },
    {
      type: 'text', x: 872, y: 256, z: 100,
      style: {
        text: 'Quotes from Phil suddenly spike to\nunusually high levels and then remain\nhigh for the rest of the trading day.',
        font: '33px "Liberation Serif"',
        lineHeight: 39,
        fill: '#000',
        verticalAlign: 'top'
      }
    },
    {
      type: 'text', x: 753, y: 1122, z: 100,
      style: {
        text: 'Phil quotes balloon and account for 40% of all option\nquotes. Most of these quotes are nonsense (stuffing)',
        font: '34px "Liberation Serif"',
        lineHeight: 39,
        fill: '#000',
        verticalAlign: 'top'
      }
    }
  ].concat(arrow(854, 271, 622, 226))
    .concat(arrow(1364, 351, 1726, 504))
    .concat(arrow(746, 1129, 691, 1093)),
  series: series
};

chart.setOption(option);
</script>
</body>
</html>
